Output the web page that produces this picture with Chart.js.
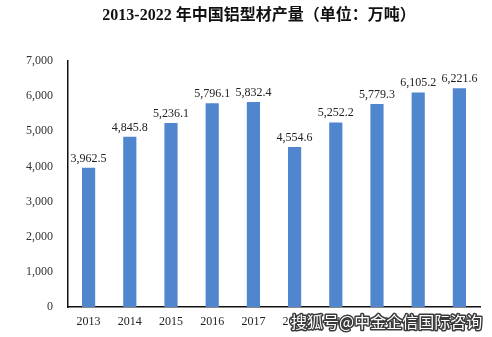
<!DOCTYPE html>
<html>
<head>
<meta charset="utf-8">
<script src="https://cdn.jsdelivr.net/npm/chart.js@4/dist/chart.umd.min.js"></script>
<style>
  html, body { margin: 0; padding: 0; background: #fff; }
  #wrap { position: relative; width: 492px; height: 337px; }
</style>
</head>
<body>
<div id="wrap"><canvas id="c" width="492" height="337"></canvas></div>
<script>
// Annual output of aluminium profiles in China, 10k tonnes
const years = ['2013', '2014', '2015', '2016', '2017', '2018', '2019', '2020', '2021', '2022'];
const output = [3962.5, 4845.8, 5236.1, 5796.1, 5832.4, 4554.6, 5252.2, 5779.3, 6105.2, 6221.6];
const yTicks = [0, 1000, 2000, 3000, 4000, 5000, 6000, 7000];
const xLabels = years.map(y => y);

const titleText = '2013-2022 年中国铝型材产量（单位：万吨）';
const watermark = '搜狐号@中金企信国际咨询';

const serif = '"Liberation Serif", "Times New Roman", "Noto Sans CJK SC", serif';

const fmt = v => v.toLocaleString('en-US', { minimumFractionDigits: 1, maximumFractionDigits: 1 });
const fmtInt = v => v.toLocaleString('en-US');

const titlePlugin = {
  id: 'titleText',
  afterDraw(chart) {
    const ctx = chart.ctx;
    ctx.save();
    ctx.font = 'bold 16px ' + serif;
    ctx.fillStyle = '#111';
    ctx.textAlign = 'center';
    ctx.textBaseline = 'middle';
    ctx.fillText(titleText, 259, 16);
    ctx.restore();
  }
};

const valueLabels = {
  id: 'valueLabels',
  afterDatasetsDraw(chart) {
    const ctx = chart.ctx;
    const meta = chart.getDatasetMeta(0);
    ctx.save();
    ctx.font = '12px ' + serif;
    ctx.fillStyle = '#222';
    ctx.textAlign = 'center';
    ctx.textBaseline = 'alphabetic';
    meta.data.forEach((bar, i) => {
      ctx.fillText(fmt(output[i]), bar.x, bar.y - 6);
    });
    ctx.restore();
  }
};

const watermarkPlugin = {
  id: 'watermark',
  afterDraw(chart) {
    const ctx = chart.ctx;
    ctx.save();
    ctx.font = '16px "Noto Sans CJK SC", sans-serif';
    ctx.textAlign = 'left';
    ctx.textBaseline = 'middle';
    ctx.lineJoin = 'round';
    ctx.lineWidth = 3;
    ctx.strokeStyle = '#3a3a3a';
    ctx.strokeText(watermark, 291, 322);
    ctx.fillStyle = '#ffffff';
    ctx.fillText(watermark, 291, 322);
    ctx.restore();
  }
};

new Chart(document.getElementById('c'), {
  type: 'bar',
  data: {
    labels: xLabels,
    datasets: [{
      data: output,
      backgroundColor: '#4f86cd',
      borderWidth: 0,
      categoryPercentage: 1,
      barPercentage: 0.32
    }]
  },
  options: {
    responsive: false,
    animation: false,
    layout: { padding: { top: 61, right: 12, bottom: 0, left: 0 } },
    plugins: {
      legend: { display: false },
      tooltip: { enabled: false }
    },
    scales: {
      x: {
        grid: { display: false, drawTicks: false },
        border: { display: true, color: '#111', width: 1.5 },
        ticks: {
          color: '#222',
          font: { family: serif, size: 12 },
          padding: 8,
          maxRotation: 0,
          autoSkip: false
        },
        afterFit(scale) { scale.height = 30; }
      },
      y: {
        min: 0,
        max: 7000,
        grid: { display: false, drawTicks: false },
        border: { display: true, color: '#111', width: 1.5 },
        afterBuildTicks(scale) { scale.ticks = yTicks.map(v => ({ value: v })); },
        ticks: {
          color: '#333',
          font: { family: serif, size: 12 },
          padding: 15,
          callback: v => fmtInt(v)
        },
        afterFit(scale) { scale.width = 68; }
      }
    }
  },
  plugins: [titlePlugin, valueLabels, watermarkPlugin]
});
</script>
</body>
</html>
